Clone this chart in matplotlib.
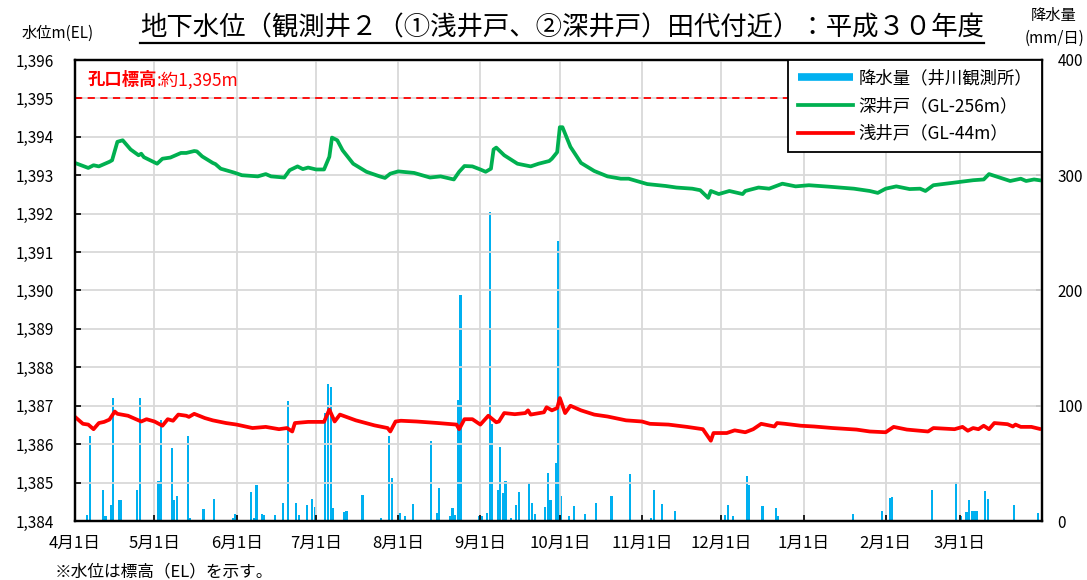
import numpy as np
import pandas as pd
import matplotlib
matplotlib.use('Agg')
import matplotlib.pyplot as plt
from matplotlib.lines import Line2D
from matplotlib.transforms import blended_transform_factory

plt.rcParams['font.family'] = ['Noto Sans CJK JP', 'DejaVu Sans']

start = pd.Timestamp('2018-04-01')

# 深井戸 (GL-256m) : days from 4/1, water level m(EL)
deep_day = [0, 5, 7, 9, 13, 14, 16, 18, 21, 24, 25, 26, 31, 33, 36, 40, 42, 45, 46, 48,
            52, 53, 55, 60, 63, 69, 70, 72, 74, 79, 81, 84, 86, 88, 91, 94, 96, 97, 99, 101,
            105, 110, 115, 117, 119, 122, 128, 130, 134, 138, 143, 145, 147, 150, 153, 155,
            157, 158, 159, 162, 167, 172, 175, 179, 180, 182, 183, 184, 187, 191, 196, 201,
            206, 209, 216, 223, 227, 233, 236, 239, 240, 243, 247, 252, 253, 258, 262, 267,
            272, 277, 285, 294, 300, 303, 306, 310, 315, 319, 321, 324, 331, 339, 343, 345,
            349, 353, 357, 359, 362, 364]
deep_lvl = [1393.32, 1393.19, 1393.26, 1393.23, 1393.35, 1393.39, 1393.87, 1393.91, 1393.67,
            1393.52, 1393.56, 1393.47, 1393.30, 1393.43, 1393.46, 1393.58, 1393.58, 1393.63,
            1393.62, 1393.49, 1393.32, 1393.29, 1393.17, 1393.07, 1393.00, 1392.97, 1392.99,
            1393.03, 1392.97, 1392.94, 1393.13, 1393.23, 1393.16, 1393.20, 1393.15, 1393.15,
            1393.48, 1393.98, 1393.91, 1393.65, 1393.30, 1393.09, 1392.97, 1392.93, 1393.04,
            1393.10, 1393.06, 1393.02, 1392.94, 1392.97, 1392.89, 1393.09, 1393.24, 1393.23,
            1393.15, 1393.09, 1393.17, 1393.67, 1393.72, 1393.52, 1393.30, 1393.23, 1393.30,
            1393.37, 1393.43, 1393.60, 1394.25, 1394.25, 1393.74, 1393.32, 1393.11, 1392.97,
            1392.91, 1392.91, 1392.77, 1392.72, 1392.68, 1392.65, 1392.61, 1392.41, 1392.59,
            1392.51, 1392.59, 1392.51, 1392.59, 1392.68, 1392.65, 1392.78, 1392.71, 1392.74,
            1392.70, 1392.65, 1392.59, 1392.54, 1392.65, 1392.71, 1392.64, 1392.65, 1392.59,
            1392.74, 1392.80, 1392.87, 1392.89, 1393.03, 1392.94, 1392.85, 1392.91, 1392.85,
            1392.89, 1392.87]

# 浅井戸 (GL-44m)
shallow_day = [0, 3, 5, 7, 9, 11, 13, 15, 16, 20, 25, 27, 30, 33, 35, 37, 39, 42, 43, 45,
               49, 52, 57, 61, 67, 72, 77, 80, 82, 83, 88, 94, 96, 98, 100, 106, 113, 118,
               119, 121, 123, 129, 137, 144, 145, 147, 150, 153, 156, 159, 160, 162, 166,
               170, 171, 172, 177, 178, 180, 182, 183, 185, 187, 191, 196, 201, 208, 214,
               217, 224, 231, 237, 240, 241, 246, 249, 253, 256, 259, 264, 265, 268, 274,
               279, 286, 295, 300, 306, 309, 314, 322, 324, 332, 335, 337, 339, 341, 343,
               345, 347, 352, 354, 355, 357, 361, 364]
shallow_lvl = [1386.71, 1386.53, 1386.51, 1386.39, 1386.55, 1386.58, 1386.64, 1386.85,
               1386.79, 1386.74, 1386.59, 1386.65, 1386.59, 1386.48, 1386.65, 1386.61,
               1386.77, 1386.74, 1386.71, 1386.79, 1386.68, 1386.62, 1386.55, 1386.51,
               1386.42, 1386.45, 1386.39, 1386.42, 1386.33, 1386.55, 1386.58, 1386.58,
               1386.90, 1386.59, 1386.77, 1386.62, 1386.49, 1386.42, 1386.33, 1386.59,
               1386.61, 1386.59, 1386.55, 1386.51, 1386.39, 1386.65, 1386.65, 1386.51,
               1386.74, 1386.57, 1386.59, 1386.81, 1386.78, 1386.81, 1386.88, 1386.77,
               1386.83, 1386.96, 1386.88, 1386.94, 1387.20, 1386.81, 1387.00, 1386.88,
               1386.77, 1386.72, 1386.62, 1386.59, 1386.53, 1386.51, 1386.45, 1386.39,
               1386.09, 1386.29, 1386.29, 1386.36, 1386.31, 1386.39, 1386.53, 1386.46,
               1386.55, 1386.53, 1386.48, 1386.46, 1386.42, 1386.38, 1386.33, 1386.31,
               1386.45, 1386.38, 1386.33, 1386.42, 1386.39, 1386.45, 1386.35, 1386.42,
               1386.39, 1386.48, 1386.39, 1386.55, 1386.52, 1386.46, 1386.51, 1386.45,
               1386.45, 1386.40]

# 降水量 (井川観測所) mm/日
rain_day = [4, 5, 10, 11, 13, 14, 16, 17, 23, 24, 31, 32, 36, 37, 38, 42, 43, 48, 52, 59,
            60, 66, 67, 68, 70, 71, 75, 78, 80, 83, 84, 87, 89, 90, 94, 95, 96, 97, 101, 102,
            108, 115, 118, 119, 122, 124, 127, 134, 136, 137, 141, 142, 143, 144, 145, 152,
            153, 155, 156, 157, 159, 160, 161, 162, 164, 166, 167, 171, 172, 173, 177, 178,
            179, 181, 182, 183, 186, 188, 192, 193, 196, 202, 208, 209, 217, 218, 221, 226,
            240, 245, 246, 248, 253, 254, 259, 264, 265, 293, 304, 307, 308, 323, 332, 334,
            336, 337, 338, 339, 340, 343, 344, 354, 363]
rain_mm = [5, 74, 27, 4, 14, 107, 18, 18, 27, 107, 35, 88, 63, 18, 22, 74, 3, 10, 19, 2.5,
           6, 25, 3, 31, 6, 5, 5, 16, 104, 16, 5, 14, 19, 12, 94, 119, 116, 11, 8, 9,
           23, 3, 74, 37, 7, 4.5, 15, 69, 7, 29, 4, 11, 5, 105, 196, 4, 4.5,
           7, 268, 84, 27, 64, 24, 35, 2.5, 14, 25, 33, 16, 6, 12, 42,
           18, 50, 243, 21.5, 4.5, 13, 6, 1, 16, 22, 1, 41, 3, 27, 15, 9,
           1, 5, 14, 4, 39, 31, 13, 11, 4.5, 6, 9, 20, 21, 27, 34, 4,
           8, 18, 9, 9, 9, 26, 19, 14, 7]

month_starts = pd.date_range('2018-04-01', '2019-03-01', freq='MS')
month_pos = (month_starts - start).days
month_labels = [f'{d.month}月1日' for d in month_starts]

fig = plt.figure(figsize=(10.87, 5.80), dpi=100)
ax = fig.add_axes([0.069, 0.1017, 0.8896, 0.7949])
ax2 = ax.twinx()
ax.set_zorder(ax2.get_zorder() + 1)
ax.patch.set_visible(False)

ax2.bar(np.array(rain_day) + 0.5, rain_mm, width=0.8, color='#00B0F0', linewidth=0)
ax2.set_ylim(0, 400)
ax2.set_yticks([0, 100, 200, 300, 400])

l_deep, = ax.plot(deep_day, deep_lvl, color='#00B050', lw=2.7, solid_joinstyle='round')
l_shal, = ax.plot(shallow_day, shallow_lvl, color='#FF0000', lw=2.7, solid_joinstyle='round')
ax.axhline(1395, color='#FF0000', lw=1.3, ls=(0, (4, 3)))

ax.set_xlim(0, 365)
ax.set_ylim(1384, 1396)
ax.set_yticks(range(1384, 1397))
ax.yaxis.set_major_formatter(lambda v, p: f'{int(v):,}')
ax.set_xticks(month_pos)
ax.set_xticklabels(month_labels)
ax.grid(color='#d9d9d9', lw=1.3)
ax.set_axisbelow(True)

for a in (ax, ax2):
    for s in a.spines.values():
        s.set_color('black')
        s.set_linewidth(1.6)
ax.tick_params(axis='y', direction='in', length=4, width=1.2, labelsize=11, pad=15)
ax.tick_params(axis='x', direction='in', length=4, width=1.2, labelsize=12, pad=10)
ax2.tick_params(axis='y', direction='in', length=4, width=1.2, labelsize=11, pad=11)

t1 = ax.text(0.013, 1395.47, '孔口標高', color='#FF0000', fontsize=12.5, fontweight='bold',
             transform=blended_transform_factory(ax.transAxes, ax.transData), va='center')
ax.annotate(':約1,395m', xy=(1, 0.5), xycoords=t1, color='#FF0000', fontsize=12.5,
            va='center')

rain_handle = Line2D([], [], color='#00B0F0', lw=5.5, solid_capstyle='butt')
leg = ax.legend([rain_handle, l_deep, l_shal],
                ['降水量（井川観測所）', '深井戸（GL-256m）', '浅井戸（GL-44m）'],
                loc='upper right', borderaxespad=0, fancybox=False, edgecolor='black',
                framealpha=1, fontsize=12.5, handlelength=3.2, handletextpad=0.3,
                labelspacing=0.55, borderpad=0.55)
leg.get_frame().set_linewidth(1.3)

fig.text(0.053, 0.943, '水位m(EL)', ha='center', va='center', fontsize=11)
fig.text(0.969, 0.974, '降水量', ha='center', va='center', fontsize=11)
fig.text(0.970, 0.934, '(mm/日)', ha='center', va='center', fontsize=11)
title = fig.text(0.517, 0.951, '地下水位（観測井２（①浅井戸、②深井戸）田代付近）：平成３０年度',
                 ha='center', va='center', fontsize=19)
fig.text(0.0506, 0.014, '※水位は標高（EL）を示す。', ha='left', va='center', fontsize=12)

fig.canvas.draw()
bb = title.get_window_extent()
W, H = fig.bbox.width, fig.bbox.height
fig.add_artist(Line2D([bb.x0 / W, bb.x1 / W], [(bb.y0 - 1) / H] * 2,
                      color='black', lw=1.6, transform=fig.transFigure))

fig.savefig('out.png', dpi=100)
